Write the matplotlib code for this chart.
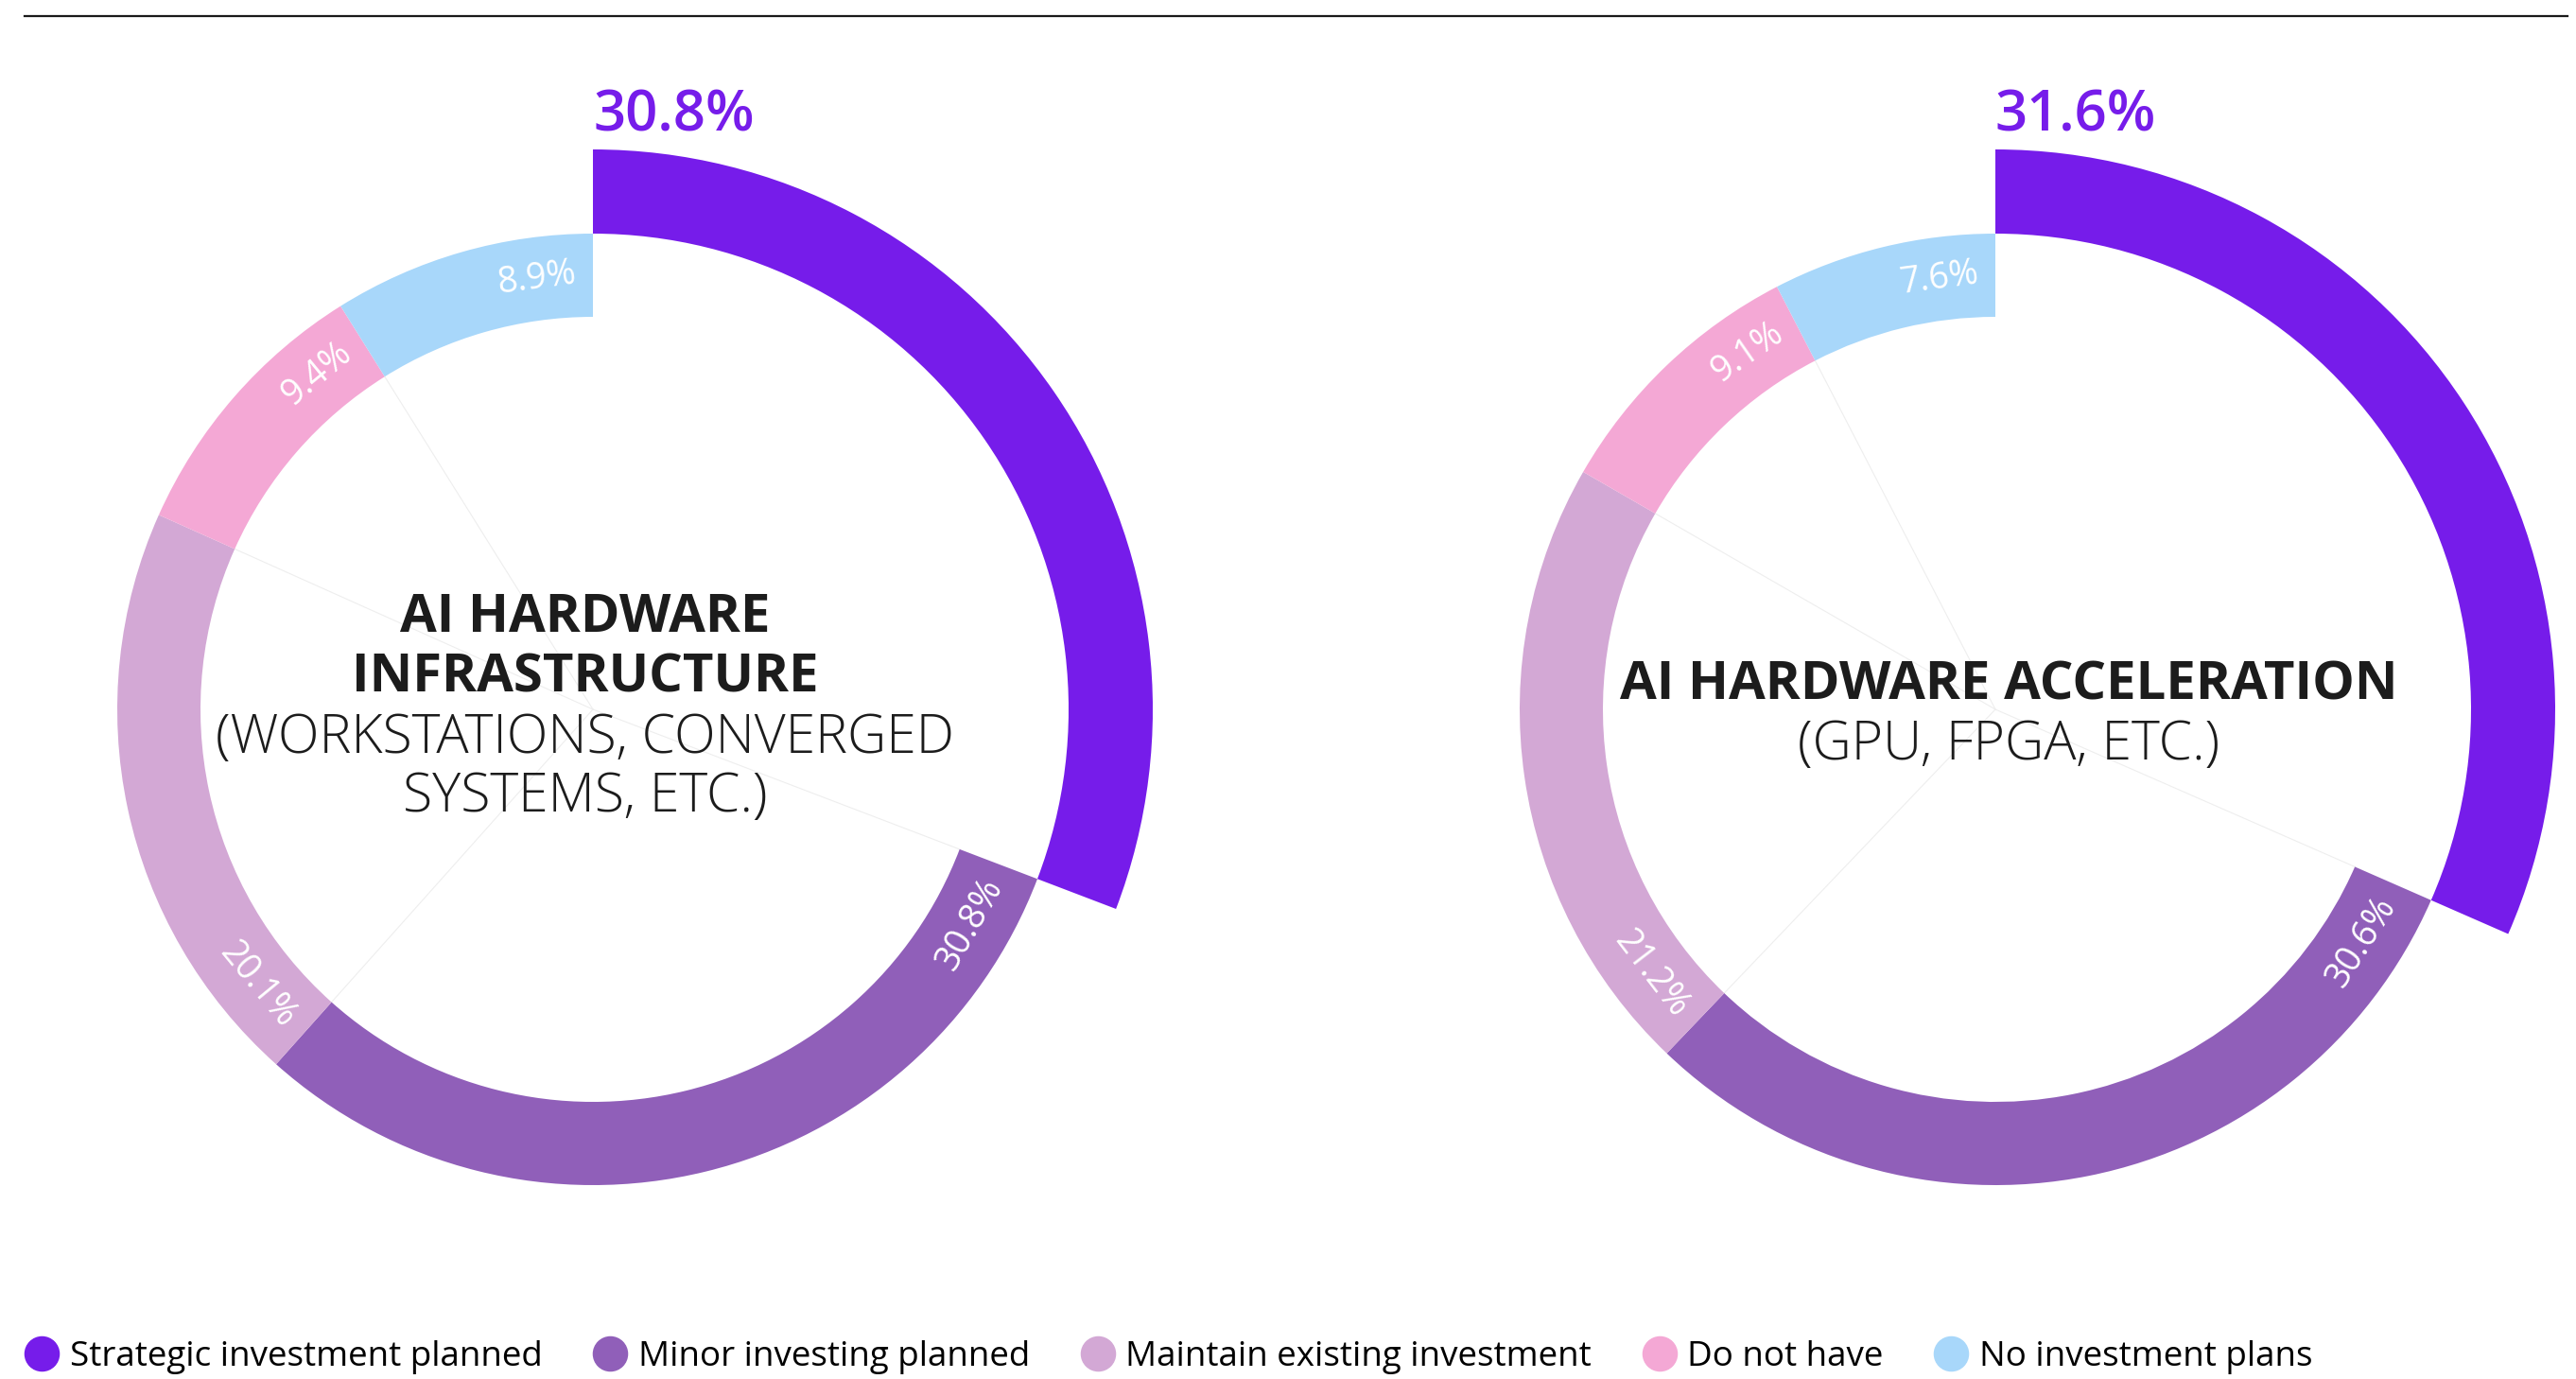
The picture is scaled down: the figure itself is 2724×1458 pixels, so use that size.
import numpy as np
import matplotlib
matplotlib.use("Agg")
import matplotlib.pyplot as plt
from matplotlib.patches import Wedge
from matplotlib.lines import Line2D

plt.rcParams["font.family"] = ["Open Sans", "DejaVu Sans"]

# ================================
# DATA
# ================================

categories = [
    "Strategic investment planned",
    "Minor investing planned",
    "Maintain existing investment",
    "Do not have",
    "No investment plans",
]
colors = ["#761CEA", "#905FB9", "#D3A8D5", "#F4A8D5", "#A8D7FA"]

infra_values = [30.8, 30.8, 20.1, 9.4, 8.9]
accel_values = [31.6, 30.6, 21.2, 9.1, 7.6]

infra_title = ["AI HARDWARE", "INFRASTRUCTURE"]
infra_sub = ["(WORKSTATIONS, CONVERGED", "SYSTEMS, ETC.)"]
accel_title = ["AI HARDWARE ACCELERATION"]
accel_sub = ["(GPU, FPGA, ETC.)"]

# ================================
# LAYOUT (pixel units, y measured from top)
# ================================

W, H = 2724, 1458
R_IN, R_MID, R_OUT = 415, 503, 592
LABEL_GAP = 18
CENTER_Y = 750
TEXT_DARK = "#1c1c1c"
TITLE_SIZE = 40.5
SUB_SIZE = 41


def norm_angle(a):
    return (a + 180) % 360 - 180


def draw_donut(ax, renderer, cx, values, title, sub, title_dx, title_y, sub_y):
    cy = H - CENTER_Y
    total = sum(values)
    start = 90.0
    bounds = []
    for i, (v, c) in enumerate(zip(values, colors)):
        sweep = 360.0 * v / total
        t1, t2 = start - sweep, start
        if i == 0:
            # strategic slice sits outside the main ring
            wedge = Wedge((cx, cy), R_OUT, t1, t2, width=R_OUT - R_MID, facecolor=c, lw=0)
        else:
            wedge = Wedge((cx, cy), R_MID, t1, t2, width=R_MID - R_IN, facecolor=c, lw=0)
        ax.add_patch(wedge)
        bounds.append((t1, t2))
        start = t1

    # faint spokes from the centre to the inner slice boundaries
    for t1, t2 in bounds[:-1]:
        a = np.radians(t1)
        ax.plot([cx, cx + R_IN * np.cos(a)], [cy, cy + R_IN * np.sin(a)],
                color="#eeeeee", lw=0.8, zorder=0)

    # headline value above the strategic slice
    ax.text(cx, H - 138, f"{values[0]:.1f}%", color=colors[0], fontsize=43,
            fontweight="semibold", ha="left", va="baseline")

    # value labels inside the ring, tucked against one boundary
    r_lab = (R_IN + R_MID) / 2
    for (t1, t2), v in zip(bounds[1:], values[1:]):
        txt = ax.text(0, 0, f"{v:.1f}%", color="white", fontsize=27,
                      ha="center", va="center", rotation_mode="anchor")
        half = txt.get_window_extent(renderer).width / 2
        offset = np.degrees((LABEL_GAP + half) / r_lab)
        mid = (t1 + t2) / 2
        rot = norm_angle(mid - 90)
        if -90 <= rot <= 90:
            ang = t1 + offset
            rot = norm_angle(ang - 90)
        else:
            ang = t2 - offset
            rot = norm_angle(ang + 90)
        a = np.radians(ang)
        txt.set_position((cx + r_lab * np.cos(a), cy + r_lab * np.sin(a)))
        txt.set_rotation(rot)

    # centre titles
    for line, y in zip(title, title_y):
        ax.text(cx + title_dx, H - y, line, fontsize=TITLE_SIZE, fontweight="bold",
                color=TEXT_DARK, ha="center", va="baseline")
    for line, y in zip(sub, sub_y):
        ax.text(cx + title_dx, H - y, line, fontsize=SUB_SIZE, fontweight="light",
                color=TEXT_DARK, ha="center", va="baseline")


fig = plt.figure(figsize=(W / 100, H / 100), dpi=100)
ax = fig.add_axes([0, 0, 1, 1])
ax.set_xlim(0, W)
ax.set_ylim(0, H)
ax.axis("off")
renderer = fig.canvas.get_renderer()

# top rule
ax.plot([26, 2715], [H - 17, H - 17], color="#1a1a1a", lw=1.6)

draw_donut(ax, renderer, 627, infra_values, infra_title, infra_sub,
           title_dx=-8, title_y=[668, 731], sub_y=[796, 858])
draw_donut(ax, renderer, 2110, accel_values, accel_title, accel_sub,
           title_dx=14, title_y=[739], sub_y=[803])

handles = [Line2D([], [], marker="o", ls="", markersize=26, markerfacecolor=c,
                  markeredgecolor=c) for c in colors]
fig.legend(handles, categories, loc="center left", bbox_to_anchor=(26 / W, 23 / H),
           ncol=5, frameon=False, fontsize=26.5, handlelength=1.0, handletextpad=0.3,
           columnspacing=1.45, borderpad=0, borderaxespad=0)

fig.savefig("out.png", dpi=100, facecolor="white")
